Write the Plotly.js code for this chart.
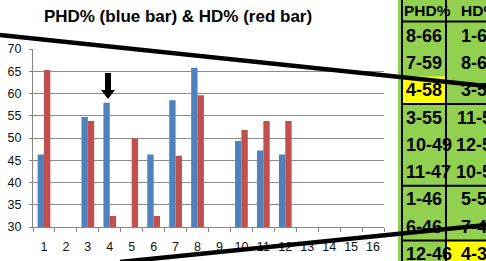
<!DOCTYPE html>
<html>
<head>
<meta charset="utf-8">
<script src="https://cdn.plot.ly/plotly-3.0.1.min.js"></script>
<style>html,body{margin:0;padding:0;overflow:hidden;background:#fff}</style>
</head>
<body>
<div id="chart" style="width:486px;height:261px"></div>
<script>
// ---- data ----
const categories = ['1','2','3','4','5','6','7','8','9','10','11','12','13','14','15','16'];
const phdValues = [46.3, 0, 54.7, 57.9, 0, 46.3, 58.5, 65.8, 0, 49.3, 47.2, 46.3, 0, 0, 0, 0];
const hdValues  = [65.3, 0, 53.8, 32.5, 49.9, 32.5, 46.0, 59.6, 0, 51.8, 53.8, 53.8, 0, 0, 0, 0];
const tablePHD = ['PHD%', '8-66', '7-59', '4-58', '3-55', '10-49', '11-47', '1-46', '6-46', '12-46'];
const tableHD  = ['HD%', '1-65', '8-60', '3-54', '11-54', '12-54', '10-52', '5-50', '7-46', '4-32'];
const titleText = 'PHD% (blue bar) & HD% (red bar)';

// ---- layout geometry (pixels) ----
const W = 486, H = 261;
const L = 33, R = 384, T = 49, B = 227;
const X = px => (px - L) / (R - L);
const Y = py => (B - py) / (B - T);

const shapes = [];
const annotations = [];

// table
const tLeft = 402, tMid = 446, tRight = 530;
const rowTop = i => 22 + (i - 1) * 27.3; // i = 1..
shapes.push({type:'rect', xref:'paper', yref:'paper', x0:X(398), x1:X(tRight), y0:Y(-5), y1:Y(300),
  fillcolor:'#92D050', line:{width:0}, layer:'above'});
// yellow highlights
shapes.push({type:'rect', xref:'paper', yref:'paper', x0:X(tLeft), x1:X(tMid), y0:Y(rowTop(3)), y1:Y(rowTop(4)),
  fillcolor:'#FFFF00', line:{width:0}, layer:'above'});
shapes.push({type:'rect', xref:'paper', yref:'paper', x0:X(tMid), x1:X(tRight), y0:Y(rowTop(9)), y1:Y(rowTop(10)),
  fillcolor:'#FFFF00', line:{width:0}, layer:'above'});
// table borders
[tLeft, tMid].forEach(xx => shapes.push({type:'line', xref:'paper', yref:'paper', x0:X(xx), x1:X(xx), y0:Y(-5), y1:Y(300),
  line:{color:'#000', width:2}, layer:'above'}));
[21.5, rowTop(4), rowTop(7), rowTop(9)].forEach(yy => shapes.push({type:'line', xref:'paper', yref:'paper', x0:X(tLeft), x1:X(tRight), y0:Y(yy), y1:Y(yy),
  line:{color:'#000', width:2}, layer:'above'}));

// table text
const tFont = {family:'Liberation Sans, Arial', size:18, color:'#000', weight:'bold'};
const hFont = {family:'Liberation Sans, Arial', size:15.5, color:'#000', weight:'bold'};
tablePHD.forEach((t, i) => {
  const cy = i === 0 ? 10 : rowTop(i) + 13.6;
  annotations.push({xref:'paper', yref:'paper', x:X(i === 0 ? 402 : 404), y:Y(cy), xanchor:'left', yanchor:'middle', text:t, showarrow:false, font: i === 0 ? hFont : tFont});
});
tableHD.forEach((t, i) => {
  const cy = i === 0 ? 10 : rowTop(i) + 13.6;
  annotations.push({xref:'paper', yref:'paper', x:X(479), y:Y(cy), xanchor:'center', yanchor:'middle', text:t, showarrow:false, font: i === 0 ? hFont : tFont});
});

// arrow above bar 4
const arrowPts = [[105,73],[111,73],[111,90],[115,90],[108,99],[101,90],[105,90]];
shapes.push({type:'path', xref:'paper', yref:'paper',
  path: 'M' + arrowPts.map(p => X(p[0]) + ',' + Y(p[1])).join(' L') + ' Z',
  fillcolor:'#000', line:{width:0}, layer:'above'});

// diagonal marker lines
shapes.push({type:'line', xref:'paper', yref:'paper', x0:X(-5), y0:Y(34.5), x1:X(495), y1:Y(87), line:{color:'#000', width:4.5}, layer:'above'});
shapes.push({type:'line', xref:'paper', yref:'paper', x0:X(120), y0:Y(262), x1:X(495), y1:Y(224), line:{color:'#000', width:4.5}, layer:'above'});

const traces = [
  {type:'bar', name:'PHD%', x:categories, y:phdValues, marker:{color:'#4F81BD'}},
  {type:'bar', name:'HD%', x:categories, y:hdValues, marker:{color:'#C0504D'}}
];

const layout = {
  width: W, height: H,
  margin: {l:L, r:W-R, t:T, b:H-B, pad:0},
  paper_bgcolor:'#fff', plot_bgcolor:'#fff',
  showlegend:false,
  barmode:'group', bargap:0.42, bargroupgap:0,
  title: {text:'<b>' + titleText + '</b>', x:178/W, xanchor:'center', y:1-16/H, yanchor:'middle',
          font:{family:'Liberation Sans, Arial', size:17, color:'#000'}},
  xaxis: {type:'category', tickson:'boundaries', ticks:'outside', ticklen:4, tickcolor:'#868686', tickangle:0,
          showline:true, linecolor:'#868686', linewidth:1, showgrid:false,
          tickfont:{family:'Liberation Sans, Arial', size:12.5, color:'#111'}, ticklabelstandoff:8, fixedrange:true},
  yaxis: {range:[30,70], dtick:5, tick0:30, ticks:'outside', ticklen:3, tickcolor:'#868686',
          showline:true, linecolor:'#868686', linewidth:1, showgrid:true, gridcolor:'#8c8c8c', gridwidth:1,
          zeroline:false, tickfont:{family:'Liberation Sans, Arial', size:12.5, color:'#111'}, ticklabelstandoff:5, fixedrange:true},
  shapes: shapes,
  annotations: annotations
};

Plotly.newPlot('chart', traces, layout, {displayModeBar:false, staticPlot:true});
</script>
</body>
</html>
